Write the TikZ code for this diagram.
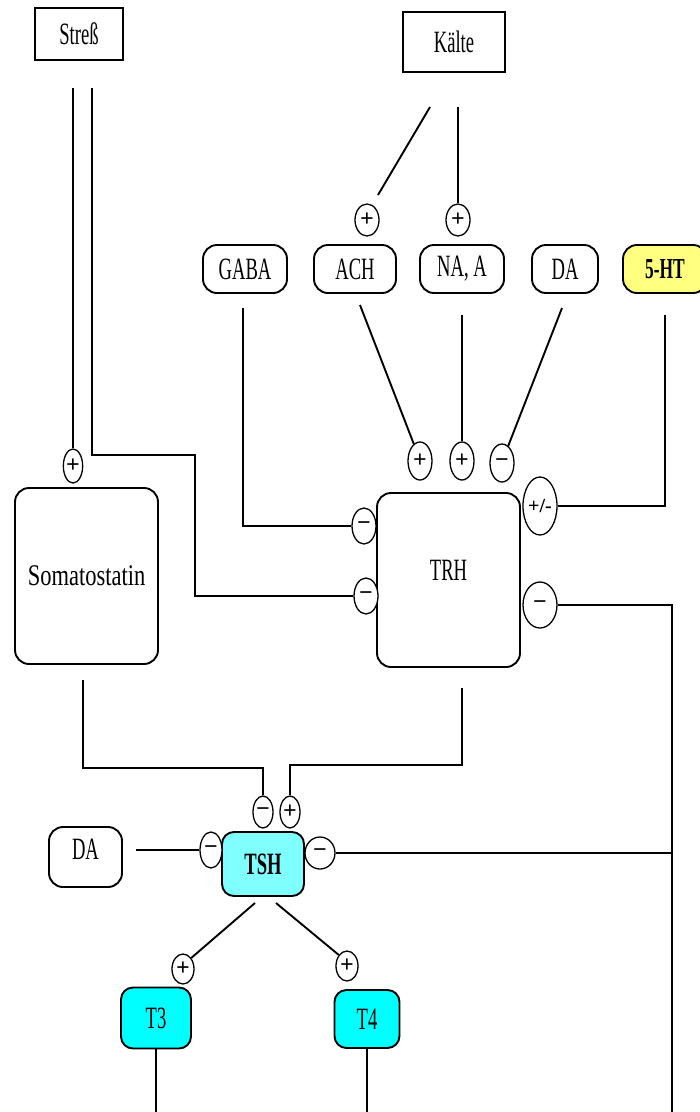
\documentclass[tikz,border=0pt]{standalone}
\usepackage{fontspec}
\setmainfont{Liberation Serif}
\newfontfamily\lblfont[FakeStretch=0.6]{Liberation Serif}
\newfontfamily\widefont[FakeStretch=0.75]{Liberation Serif}
\usetikzlibrary{shapes.geometric}
\definecolor{paleyellow}{RGB}{255,255,128}
\definecolor{palecyan}{RGB}{128,255,255}
\definecolor{fullcyan}{RGB}{0,255,255}
\begin{document}
\begin{tikzpicture}[x=1pt,y=-1pt,
  line width=1.9pt,
  lbl/.style={font=\lblfont\fontsize{31}{31}\selectfont},
  sqbox/.style={draw, rectangle, inner sep=0pt, lbl, fill=white},
  pill/.style={draw, rectangle, rounded corners=14pt, inner sep=0pt, lbl, fill=white},
  sign/.style={draw, ellipse, inner sep=0pt, line width=1.3pt, font=\bfseries\fontsize{24}{24}\selectfont, fill=white}
]
\useasboundingbox[fill=white] (0,0) rectangle (700,1112);

% top boxes
\node[sqbox, minimum width=88, minimum height=52] (stress) at (79,34) {Streß};
\node[sqbox, minimum width=102, minimum height=60] (kalte) at (454,42) {Kälte};

% signs under Kaelte
\node[sign, minimum width=24, minimum height=32] (pK1) at (367,220) {+};
\node[sign, minimum width=24, minimum height=32] (pK2) at (458,220) {+};

% transmitter pills
\node[pill, minimum width=84, minimum height=48] (gaba) at (245,269) {GABA};
\node[pill, minimum width=82, minimum height=48] (ach) at (355,269) {ACH};
\node[pill, minimum width=84, minimum height=48] (naa) at (462,269) {NA, A};
\node[pill, minimum width=66, minimum height=48] (da) at (565,269) {DA};
\node[pill, minimum width=84, minimum height=48, fill=paleyellow,
      font=\lblfont\bfseries\fontsize{29}{29}\selectfont] (ht) at (665,269) {5-HT};

% main boxes
\node[pill, minimum width=143, minimum height=174] (trh) at (448.5,580) {\raisebox{20pt}{TRH}};
\node[pill, minimum width=143, minimum height=176, font=\widefont\fontsize{30}{30}\selectfont] (som) at (86.5,576) {Somatostatin};

% signs round TRH and Somatostatin
\node[sign, minimum width=24, minimum height=38] (mT1) at (420,461) {+};
\node[sign, minimum width=24, minimum height=38] (mT2) at (462,461) {+};
\node[sign, minimum width=24, minimum height=38] (mT3) at (502,463) {−};
\node[sign, minimum width=34, minimum height=58, font=\bfseries\fontsize{20}{20}\selectfont] (mHT) at (540,506) {+/-};
\node[sign, minimum width=34, minimum height=46] (mR) at (540,605) {−};
\node[sign, minimum width=24, minimum height=36] (mL1) at (364,526) {−};
\node[sign, minimum width=24, minimum height=36] (mL2) at (366,596) {−};
\node[sign, minimum width=18, minimum height=34] (pSom) at (73,466) {+};

% TSH area
\node[sign, minimum width=20, minimum height=32] (tM) at (263,812) {−};
\node[sign, minimum width=20, minimum height=32] (tP) at (290,812) {+};
\node[pill, rounded corners=12pt, minimum width=82, minimum height=64, fill=palecyan,
      font=\lblfont\bfseries\fontsize{31}{31}\selectfont] (tsh) at (263,864) {TSH};
\node[sign, minimum width=22, minimum height=36] (tL) at (211,850) {−};
\node[sign, minimum width=30, minimum height=32] (tR) at (320,853) {−};
\node[pill, minimum width=73, minimum height=60] (da2) at (85.5,857) {\raisebox{16pt}{DA}};
\node[sign, minimum width=22, minimum height=30] (p3) at (183,969) {+};
\node[sign, minimum width=22, minimum height=30] (p4) at (347,966) {+};
\node[pill, rounded corners=12pt, minimum width=70, minimum height=61, fill=fullcyan] (t3) at (156,1018) {T3};
\node[pill, rounded corners=12pt, minimum width=65, minimum height=58, fill=fullcyan] (t4) at (367,1019) {T4};

% free ends
\coordinate (st1) at (73,88);
\coordinate (st2) at (92,88);
\coordinate (k1) at (430,107);
\coordinate (k1e) at (378,195);
\coordinate (k2) at (458,107);
\coordinate (g1) at (243,308);
\coordinate (a1) at (360,305);
\coordinate (n1) at (462,315);
\coordinate (d1) at (562,308);
\coordinate (h1) at (665,315);
\coordinate (fb) at (672,1112);
\coordinate (so1) at (83,680);
\coordinate (tr1) at (462,688);
\coordinate (dd1) at (136,850);
\coordinate (ts1) at (255,903);
\coordinate (ts2) at (276,903);

% connectors
\draw (st1) -- (pSom.north);
\draw (st2) -- (92,455) -- (195,455) |- (mL2.west);
\draw (k1) -- (k1e);
\draw (k2) -- (pK2.north);
\draw (g1) |- (mL1.west);
\draw (a1) -- (mT1.110);
\draw (n1) -- (mT2.north);
\draw (d1) -- (mT3.70);
\draw (h1) |- (mHT.east);
\draw (mR.east) -| (fb);
\draw (tR.east) -- (tR.east -| fb);
\draw (so1) -- (83,768) -| (tM.north);
\draw (tr1) -- (462,765) -| (tP.north);
\draw (dd1) -- (tL.west);
\draw (ts1) -- (p3.north east);
\draw (ts2) -- (p4.north west);
\draw (t3.south) -- (t3.south |- fb);
\draw (t4.south) -- (t4.south |- fb);
\end{tikzpicture}
\end{document}
